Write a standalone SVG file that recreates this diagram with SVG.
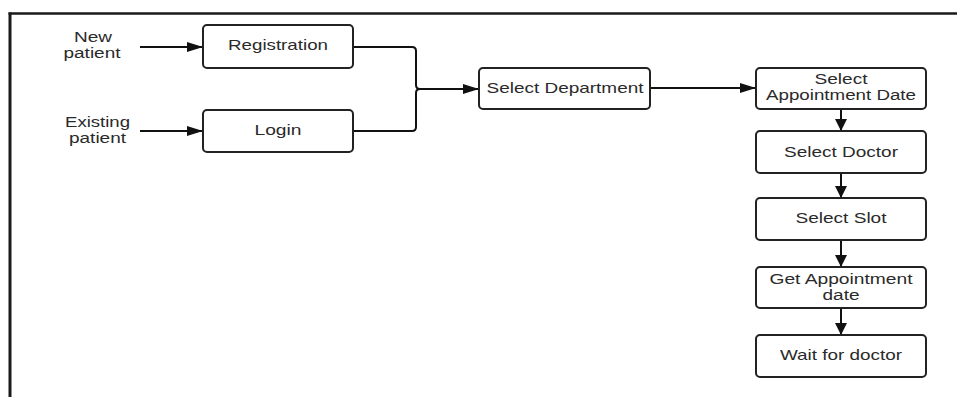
<svg xmlns="http://www.w3.org/2000/svg" width="957" height="397" viewBox="0 0 957 397">
<style>
.box{fill:#fff;stroke:#222;stroke-width:2}
.t{font-family:"Liberation Sans",Arial,sans-serif;font-size:15px;fill:#2a2a2a;text-anchor:middle}
.t2{font-size:14px}
.ln{fill:none;stroke:#111;stroke-width:2}
.frame{fill:none;stroke:#1a1a1a}
</style>
<defs>
<marker id="ah" markerUnits="userSpaceOnUse" markerWidth="18" markerHeight="12" refX="16" refY="6" orient="auto">
<path d="M0,1 L16,6 L0,11 Z" fill="#111"/>
</marker>
<marker id="av" markerUnits="userSpaceOnUse" markerWidth="14" markerHeight="14" refX="12" refY="6" orient="auto">
<path d="M0,0 L12,6 L0,12 Z" fill="#111"/>
</marker>
</defs>
<rect width="957" height="397" fill="#fff"/>
<g id="frame">
<line class="frame" x1="8.5" y1="13.5" x2="957" y2="13.5" stroke-width="2.5"/>
<line class="frame" x1="10" y1="12.5" x2="10" y2="397" stroke-width="3"/>
</g>
<g id="lbl-new">
<text class="t t2" x="93" y="41.5" textLength="38" lengthAdjust="spacingAndGlyphs">New</text>
<text class="t t2" x="92" y="57.5" textLength="57" lengthAdjust="spacingAndGlyphs">patient</text>
</g>
<g id="lbl-existing">
<text class="t t2" x="97.5" y="126.5" textLength="65" lengthAdjust="spacingAndGlyphs">Existing</text>
<text class="t t2" x="97.5" y="142.5" textLength="57" lengthAdjust="spacingAndGlyphs">patient</text>
</g>
<g id="connectors">
<line class="ln" x1="140" y1="47" x2="203" y2="47" marker-end="url(#ah)"/>
<line class="ln" x1="140" y1="131" x2="203" y2="131" marker-end="url(#ah)"/>
<path class="ln" d="M353,47 H412 Q416,47 416,51 V85 Q416,89 420,89 M353,131 H412 Q416,131 416,127 V93 Q416,89 420,89"/>
<line class="ln" x1="419" y1="89" x2="479" y2="89" marker-end="url(#ah)"/>
<line class="ln" x1="650" y1="88" x2="756" y2="88" marker-end="url(#ah)"/>
<line class="ln" x1="841" y1="109" x2="841" y2="131" marker-end="url(#av)"/>
<line class="ln" x1="841" y1="173" x2="841" y2="198" marker-end="url(#av)"/>
<line class="ln" x1="841" y1="240" x2="841" y2="267" marker-end="url(#av)"/>
<line class="ln" x1="841" y1="308" x2="841" y2="335" marker-end="url(#av)"/>
</g>
<g id="registration">
<rect class="box" x="203" y="25" width="150" height="43" rx="4"/>
<text class="t" x="278" y="50" textLength="100" lengthAdjust="spacingAndGlyphs">Registration</text>
</g>
<g id="login">
<rect class="box" x="203" y="110" width="150" height="42" rx="4"/>
<text class="t" x="278" y="134.5" textLength="47" lengthAdjust="spacingAndGlyphs">Login</text>
</g>
<g id="select-department">
<rect class="box" x="479" y="68" width="171" height="41" rx="4"/>
<text class="t" x="565" y="92.5" textLength="157" lengthAdjust="spacingAndGlyphs">Select Department</text>
</g>
<g id="select-appointment-date">
<rect class="box" x="756" y="68" width="170" height="41" rx="4"/>
<text class="t t2" x="841" y="83.5" textLength="53" lengthAdjust="spacingAndGlyphs">Select</text>
<text class="t t2" x="841" y="99.5" textLength="150" lengthAdjust="spacingAndGlyphs">Appointment Date</text>
</g>
<g id="select-doctor">
<rect class="box" x="756" y="131" width="170" height="42" rx="4"/>
<text class="t" x="841" y="156.5" textLength="114" lengthAdjust="spacingAndGlyphs">Select Doctor</text>
</g>
<g id="select-slot">
<rect class="box" x="756" y="198" width="170" height="42" rx="4"/>
<text class="t" x="841" y="222.5" textLength="91" lengthAdjust="spacingAndGlyphs">Select Slot</text>
</g>
<g id="get-appointment-date">
<rect class="box" x="756" y="267" width="170" height="41" rx="4"/>
<text class="t t2" x="841" y="284" textLength="143" lengthAdjust="spacingAndGlyphs">Get Appointment</text>
<text class="t t2" x="841" y="300" textLength="37" lengthAdjust="spacingAndGlyphs">date</text>
</g>
<g id="wait-for-doctor">
<rect class="box" x="756" y="335" width="170" height="42" rx="4"/>
<text class="t" x="841" y="359.5" textLength="122" lengthAdjust="spacingAndGlyphs">Wait for doctor</text>
</g>
</svg>
